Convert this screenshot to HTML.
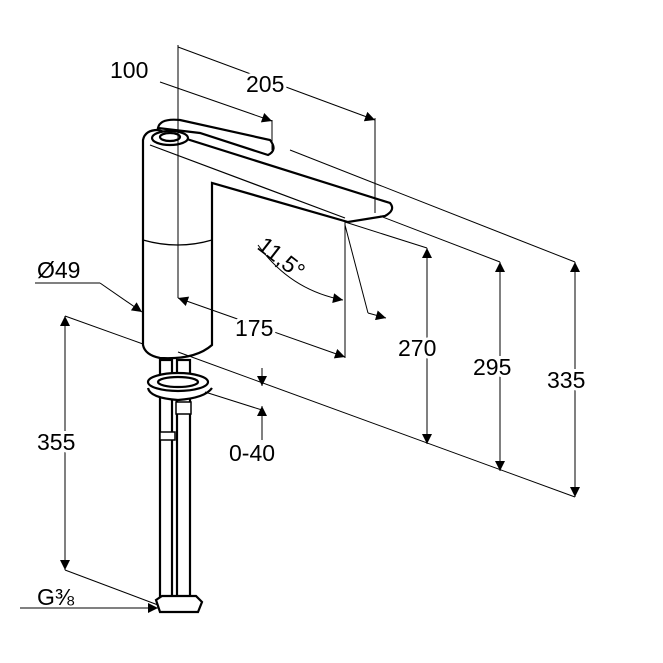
<!DOCTYPE html>
<html><head><meta charset="utf-8"><style>
html,body{margin:0;padding:0;background:#fff}
svg{display:block}
text{font-family:"Liberation Sans",sans-serif;font-size:23px;fill:#000;stroke:#fff;stroke-width:6px;paint-order:stroke}
</style></head><body>
<svg width="663" height="663" viewBox="0 0 663 663" xmlns="http://www.w3.org/2000/svg">
<defs>
<marker id="a" viewBox="0 0 10 10" refX="10" refY="5" markerWidth="16" markerHeight="10" markerUnits="userSpaceOnUse" orient="auto-start-reverse"><path d="M0,0 L10,5 L0,10 z" fill="#000"/></marker>
</defs>
<g stroke="#000" stroke-width="2.2" fill="#fff">
<rect x="160" y="360" width="12" height="240"/>
<rect x="177" y="360" width="13" height="240"/>
<path d="M143,140 Q145,130 158,130 L390,203 Q396,210 385,216 L348,222 L212,183 L212,345 Q195,360 160,358 Q145,355 143,345 Z"/>
<path d="M158,128 Q160,118 180,120 L270,140 Q278,150 268,155 L200,133 Z"/>
<ellipse cx="170" cy="138" rx="18" ry="7"/>
<ellipse cx="170" cy="137" rx="10" ry="4"/>
<path d="M143,240 Q178,250 212,240" fill="none" stroke-width="1.2"/>
<path d="M150,145 L345,218" fill="none" stroke-width="1.2"/>
<path d="M148,388 Q150,398 178,400 Q205,398 212,388" />
<ellipse cx="178" cy="382" rx="30" ry="9"/>
<ellipse cx="178" cy="382" rx="20" ry="5"/>
<rect x="176" y="402" width="15" height="12" stroke-width="1.5"/>
<rect x="160" y="432" width="15" height="8" stroke-width="1.5"/>
<path d="M156,600 L162,596 L196,596 L202,602 L198,612 L160,612 Z"/>
</g>
<g stroke="#000" stroke-width="1" fill="none">
<line x1="178" y1="45" x2="178" y2="298"/>
<line x1="178" y1="47" x2="375" y2="120" marker-end="url(#a)"/>
<line x1="375" y1="118" x2="375" y2="213"/>
<line x1="160" y1="82" x2="272" y2="121" marker-end="url(#a)"/>
<line x1="272" y1="120" x2="272" y2="150"/>
<line x1="178" y1="298" x2="345" y2="357" marker-start="url(#a)" marker-end="url(#a)"/>
<line x1="345" y1="222" x2="345" y2="358"/>
<path d="M258,245 Q290,290 343,300" marker-end="url(#a)"/>
<line x1="345" y1="225" x2="368" y2="313"/>
<line x1="368" y1="313" x2="386" y2="318" marker-end="url(#a)"/>
<line x1="345" y1="222" x2="427" y2="248"/>
<line x1="380" y1="216" x2="500" y2="262"/>
<line x1="290" y1="150" x2="575" y2="262"/>
<line x1="65" y1="316" x2="143" y2="344"/>
<line x1="178" y1="352" x2="575" y2="497"/>
<line x1="427" y1="248" x2="427" y2="444" marker-start="url(#a)" marker-end="url(#a)"/>
<line x1="500" y1="262" x2="500" y2="471" marker-start="url(#a)" marker-end="url(#a)"/>
<line x1="575" y1="262" x2="575" y2="497" marker-start="url(#a)" marker-end="url(#a)"/>
<line x1="262" y1="368" x2="262" y2="386" marker-end="url(#a)"/>
<line x1="262" y1="440" x2="262" y2="406" marker-end="url(#a)"/>
<line x1="205" y1="392" x2="262" y2="410"/>
<line x1="65" y1="316" x2="65" y2="570" marker-start="url(#a)" marker-end="url(#a)"/>
<line x1="65" y1="570" x2="158" y2="605"/>
<line x1="20" y1="608" x2="158" y2="608" marker-end="url(#a)"/>
<line x1="35" y1="283" x2="100" y2="283"/>
<line x1="100" y1="283" x2="142" y2="312" marker-end="url(#a)"/>
</g>
<g>
<text x="246" y="92">205</text>
<text x="110" y="78">100</text>
<text x="235" y="336">175</text>
<text x="256" y="248" transform="rotate(38 256 248)" style="stroke:none">11,5°</text>
<text x="398" y="356">270</text>
<text x="473" y="375">295</text>
<text x="547" y="388">335</text>
<text x="229" y="461">0-40</text>
<text x="37" y="450">355</text>
<text x="37" y="278" style="stroke:none">Ø49</text>
<text x="37" y="605" style="stroke:none">G⅜</text>
</g>
</svg>
</body></html>
